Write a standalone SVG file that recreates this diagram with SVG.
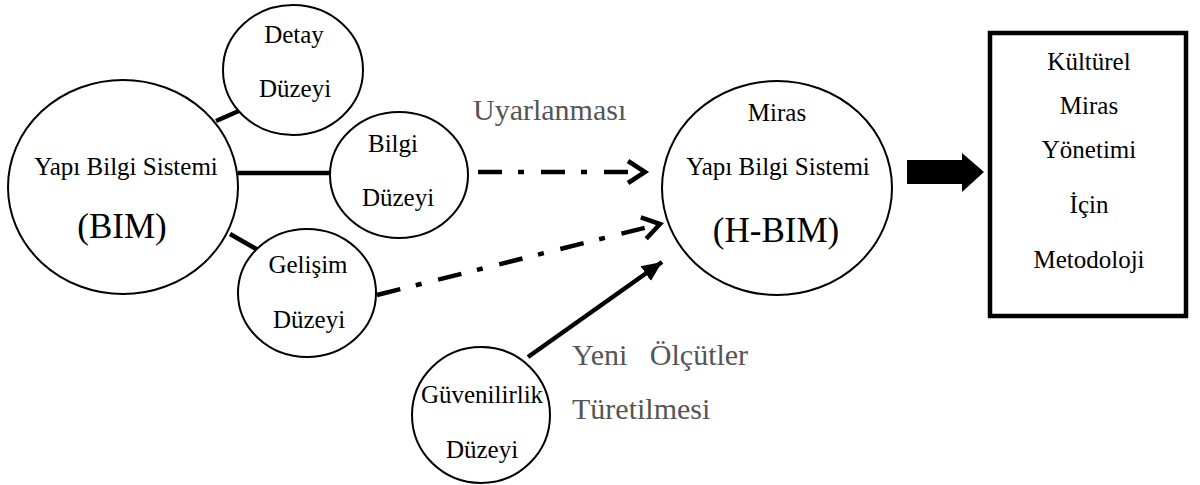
<svg xmlns="http://www.w3.org/2000/svg" width="1200" height="485" viewBox="0 0 1200 485">
<style>
.node{fill:#fff;stroke:#000;stroke-width:2}
.s{font-size:25px;fill:#000;text-anchor:middle}
.b{font-size:35px;fill:#000;text-anchor:middle}
.g{fill:#555;font-size:30px}
.link{stroke:#000;stroke-width:4.5;fill:none}
.dd{stroke:#000;stroke-width:4.5;fill:none;stroke-dasharray:24 16 6 17}
</style>
<defs>
<marker id="chev" markerUnits="userSpaceOnUse" markerWidth="30" markerHeight="30" refX="20" refY="13" orient="auto" viewBox="0 0 30 30">
<path d="M3,2 L20,13 L3,24" fill="none" stroke="#000" stroke-width="4.5"/>
</marker>
<marker id="tri" markerUnits="userSpaceOnUse" markerWidth="24" markerHeight="24" refX="20" refY="10" orient="auto" viewBox="0 0 24 24">
<path d="M0,1 L20,10 L0,19 Z" fill="#000"/>
</marker>
</defs>
<g id="connectors">
<line class="link" x1="216" y1="121" x2="241" y2="110"/>
<line class="link" x1="238" y1="173" x2="332" y2="173"/>
<line class="link" x1="230" y1="234" x2="258" y2="250"/>
<line class="dd" x1="478" y1="172" x2="645" y2="172" marker-end="url(#chev)"/>
<line class="dd" x1="377" y1="295" x2="660" y2="224" marker-end="url(#chev)"/>
<line class="link" x1="528" y1="357" x2="662" y2="262" marker-end="url(#tri)"/>
<polygon points="907,160 962,160 962,153 984,172 962,192 962,184 907,184" fill="#000"/>
</g>
<g font-family="Liberation Serif, Times New Roman, serif">
<g id="bim">
<ellipse class="node" cx="123" cy="187" rx="115" ry="107"/>
<text class="s" x="126" y="175">Yapı Bilgi Sistemi</text>
<text class="b" x="122" y="238">(BIM)</text>
</g>
<g id="detay">
<ellipse class="node" cx="293" cy="70" rx="70" ry="65"/>
<text class="s" x="294" y="43">Detay</text>
<text class="s" x="295" y="97">Düzeyi</text>
</g>
<g id="bilgi">
<ellipse class="node" cx="399" cy="175" rx="69" ry="63"/>
<text class="s" x="393" y="152">Bilgi</text>
<text class="s" x="398" y="206">Düzeyi</text>
</g>
<g id="gelisim">
<ellipse class="node" cx="307" cy="293" rx="69" ry="64"/>
<text class="s" x="308" y="273">Gelişim</text>
<text class="s" x="309" y="328">Düzeyi</text>
</g>
<g id="guvenilirlik">
<ellipse class="node" cx="481" cy="415" rx="69" ry="68"/>
<text class="s" x="482" y="403">Güvenilirlik</text>
<text class="s" x="482" y="458">Düzeyi</text>
</g>
<g id="hbim">
<ellipse class="node" cx="777" cy="188" rx="115" ry="107"/>
<text class="s" x="777" y="121">Miras</text>
<text class="s" x="778" y="175">Yapı Bilgi Sistemi</text>
<text class="b" x="776" y="242">(H-BIM)</text>
</g>
<g id="methodology">
<rect x="990" y="33" width="196" height="283" fill="#fff" stroke="#000" stroke-width="4.5"/>
<text class="s" x="1089" y="70">Kültürel</text>
<text class="s" x="1089" y="114">Miras</text>
<text class="s" x="1089" y="158">Yönetimi</text>
<text class="s" x="1089" y="213">İçin</text>
<text class="s" x="1089" y="268">Metodoloji</text>
</g>
<g id="labels">
<text class="g" x="473" y="120">Uyarlanması</text>
<text class="g" x="572" y="365" xml:space="preserve">Yeni   Ölçütler</text>
<text class="g" x="572" y="419">Türetilmesi</text>
</g>
</g>
</svg>
